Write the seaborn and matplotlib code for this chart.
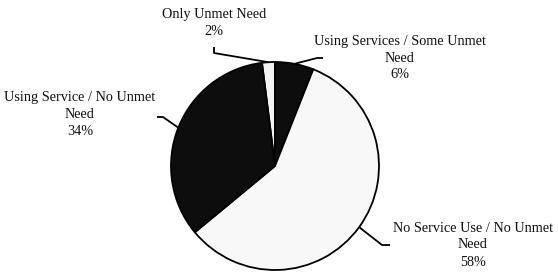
import numpy as np
import matplotlib
matplotlib.use("Agg")
import matplotlib.pyplot as plt
import seaborn as sns

sns.set_theme(style="white")
plt.rcParams['font.family'] = ['Liberation Serif', 'DejaVu Serif']

categories = ["Only Unmet Need", "Using Services / Some Unmet\nNeed",
              "No Service Use / No Unmet\nNeed", "Using Service / No Unmet\nNeed"]
values = [2, 6, 58, 34]
colors = ["#f2f2f2", "#0d0d0d", "#f8f8f8", "#0d0d0d"]

W, H = 558, 276
R = 104.0
cx, cy = 275, 166

fig = plt.figure(figsize=(W / 100, H / 100), dpi=100)
ax = fig.add_axes([0, 0, 1, 1])

start = 90 + values[0] * 3.6
wedges, _ = ax.pie(values, colors=colors, startangle=start, counterclock=False,
                   radius=1.0, wedgeprops=dict(edgecolor="black", linewidth=1.3))

ax.set_xlim(-cx / R, (W - cx) / R)
ax.set_ylim(-(H - cy) / R, cy / R)
ax.set_aspect("equal")
ax.axis("off")

def px(x, y):
    return ((x - cx) / R, (cy - y) / R)

# label layouts: (text centre px, elbow px, end px)
layout = [
    ((214, 23), (214, 53), (214, 47)),
    ((400, 58), (317, 58), (323, 58)),
    ((473, 245), (382, 245), (390, 245)),
    ((80, 114), (163, 117), (157, 117)),
]

for w, cat, v, (tc, el, en) in zip(wedges, categories, values, layout):
    ang = np.deg2rad((w.theta1 + w.theta2) / 2)
    ex, ey = np.cos(ang), np.sin(ang)
    e1 = px(*el)
    e2 = px(*en)
    ax.plot([ex, e1[0], e2[0]], [ey, e1[1], e2[1]], color="black", lw=1.3,
            solid_capstyle="butt")
    t = px(*tc)
    ax.text(t[0], t[1], f"{cat}\n{v}%", ha="center", va="center",
            fontsize=10.3, linespacing=1.4, color="#111111")

fig.savefig("out.png", dpi=100, facecolor="white")
